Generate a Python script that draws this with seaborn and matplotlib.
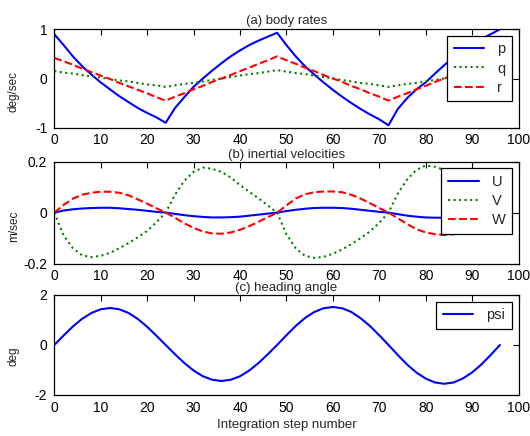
import numpy as np
import pandas as pd
import matplotlib
matplotlib.use("Agg")
import matplotlib.pyplot as plt
import seaborn as sns

steps = list(range(0, 97, 2))

p = [0.90, 0.68, 0.45, 0.25, 0.08, -0.08, -0.22, -0.36, -0.48, -0.60, -0.70, -0.79, -0.90,
     -0.60, -0.38, -0.17, 0.00, 0.16, 0.31, 0.45, 0.57, 0.68, 0.77, 0.85, 0.93,
     0.68, 0.45, 0.25, 0.08, -0.08, -0.23, -0.37, -0.50, -0.62, -0.73, -0.83, -0.95,
     -0.62, -0.40, -0.22, -0.08, 0.10, 0.27, 0.43, 0.56, 0.68, 0.80, 0.90, 1.00]
q = [0.15, 0.12, 0.10, 0.07, 0.04, 0.02, -0.01, -0.04, -0.06, -0.09, -0.12, -0.14, -0.17,
     -0.14, -0.11, -0.09, -0.06, -0.03, 0.00, 0.03, 0.06, 0.09, 0.11, 0.14, 0.17,
     0.14, 0.11, 0.09, 0.06, 0.03, 0.00, -0.03, -0.06, -0.09, -0.11, -0.14, -0.17,
     -0.14, -0.11, -0.09, -0.06, -0.03, 0.00, 0.03, 0.06, 0.09, 0.11, 0.14, 0.17]
r = [0.42, 0.35, 0.28, 0.20, 0.13, 0.06, -0.01, -0.09, -0.16, -0.23, -0.30, -0.38, -0.45,
     -0.37, -0.30, -0.22, -0.15, -0.07, 0.00, 0.07, 0.15, 0.22, 0.30, 0.37, 0.45,
     0.37, 0.30, 0.22, 0.15, 0.07, 0.00, -0.07, -0.15, -0.22, -0.30, -0.37, -0.45,
     -0.37, -0.30, -0.22, -0.15, -0.07, 0.00, 0.07, 0.15, 0.22, 0.30, 0.37, 0.45]

U = [0.0, 0.008, 0.013, 0.016, 0.018, 0.019, 0.019, 0.017, 0.014, 0.011, 0.007, 0.003, 0.0,
     -0.005, -0.010, -0.014, -0.017, -0.019, -0.019, -0.018, -0.016, -0.012, -0.008, -0.004, 0.0,
     0.006, 0.011, 0.015, 0.018, 0.019, 0.019, 0.018, 0.015, 0.011, 0.007, 0.003, 0.0,
     -0.006, -0.012, -0.016, -0.019, -0.020, -0.020, -0.020, -0.019, -0.017, -0.013, -0.008, -0.004]
V = [0.0, -0.090, -0.140, -0.168, -0.175, -0.170, -0.158, -0.140, -0.120, -0.097, -0.072, -0.038, 0.0,
     0.070, 0.125, 0.160, 0.177, 0.172, 0.160, 0.138, 0.108, 0.082, 0.056, 0.028, 0.0,
     -0.085, -0.140, -0.170, -0.178, -0.174, -0.162, -0.145, -0.124, -0.100, -0.074, -0.040, 0.0,
     0.075, 0.130, 0.168, 0.185, 0.180, 0.168, 0.150, 0.128, 0.105, 0.080, 0.050, 0.020]
W = [0.0, 0.030, 0.055, 0.070, 0.078, 0.082, 0.082, 0.078, 0.068, 0.052, 0.035, 0.017, 0.0,
     -0.020, -0.042, -0.060, -0.074, -0.082, -0.083, -0.078, -0.068, -0.053, -0.036, -0.018, 0.0,
     0.028, 0.055, 0.072, 0.080, 0.083, 0.083, 0.080, 0.070, 0.055, 0.037, 0.018, 0.0,
     -0.022, -0.045, -0.065, -0.078, -0.085, -0.088, -0.085, -0.078, -0.065, -0.048, -0.028, -0.010]

psi = [0.0, 0.38, 0.74, 1.05, 1.28, 1.43, 1.48, 1.43, 1.28, 1.04, 0.73, 0.37, 0.0,
       -0.37, -0.72, -1.02, -1.25, -1.39, -1.44, -1.39, -1.25, -1.02, -0.72, -0.37, 0.0,
       0.39, 0.76, 1.08, 1.32, 1.47, 1.52, 1.47, 1.32, 1.07, 0.76, 0.39, 0.0,
       -0.40, -0.78, -1.10, -1.34, -1.50, -1.55, -1.50, -1.34, -1.10, -0.78, -0.40, 0.0]

titles = ["(a) body rates", "(b) inertial velocities", "(c) heading angle"]
ylabels = ["deg/sec", "m/sec", "deg"]
xlabel = "Integration step number"
xticks = list(range(0, 101, 10))
yticks = [[-1, 0, 1], [-0.2, 0, 0.2], [-2, 0, 2]]
ytick_labels = [["-1", "0", "1"], ["-0.2", "0", "0.2"], ["-2", "0", "2"]]

sns.set_style("white")
plt.rcParams["font.family"] = ["Liberation Sans", "DejaVu Sans"]
plt.rcParams["axes.unicode_minus"] = False

fig = plt.figure(figsize=(5.3, 4.36), dpi=100)
W_FIG, H_FIG = 530, 436
def axrect(top, bottom, left=54.3, right=518.5):
    return [left / W_FIG, 1 - bottom / H_FIG, (right - left) / W_FIG, (bottom - top) / H_FIG]

axes = [fig.add_axes(axrect(29.3, 127.7)),
        fig.add_axes(axrect(161.7, 263.5)),
        fig.add_axes(axrect(295.0, 395.0))]

blue, green, red = "#0000ff", "#008000", "#ff0000"
lw = 1.5

panels = [
    [("p", p, blue, "-"), ("q", q, green, ":"), ("r", r, red, "--")],
    [("U", U, blue, "-"), ("V", V, green, ":"), ("W", W, red, "--")],
    [("psi", psi, blue, "-")],
]
ylims = [(-1, 1), (-0.2, 0.2), (-2, 2)]
title_pads = [4, 3, 3]

for i, ax in enumerate(axes):
    for name, vals, col, ls in panels[i]:
        df = pd.DataFrame({"step": steps, "val": vals})
        sns.lineplot(data=df, x="step", y="val", ax=ax, color=col, linewidth=lw,
                     linestyle=ls, label=name)
    ax.set_xlim(0, 100)
    ax.set_ylim(*ylims[i])
    ax.set_xticks(xticks)
    ax.set_xticklabels([str(t) for t in xticks])
    ax.set_yticks(yticks[i])
    ax.set_yticklabels(ytick_labels[i])
    ax.set_xlabel("")
    ax.set_ylabel("")
    ax.tick_params(direction="in", length=4, width=0.8, top=True, right=True,
                   labelsize=10, colors="black")
    ax.tick_params(axis="x", pad=4)
    ax.tick_params(axis="y", pad=5)
    for s in ax.spines.values():
        s.set_color("black")
        s.set_linewidth(0.9)
    ax.set_title(titles[i], fontsize=9.5, pad=title_pads[i], x=0.5)
    leg = ax.legend(loc="upper right", frameon=True, fancybox=False, framealpha=1,
                    edgecolor="black", fontsize=10.5, handlelength=2.1,
                    borderaxespad=0.45, labelspacing=0.35, handletextpad=0.9,
                    borderpad=0.45)
    leg.get_frame().set_linewidth(0.9)

axes[2].set_xlabel(xlabel, fontsize=9.5, labelpad=3)

label_y = [91, 226, 356]
for lab, yy in zip(ylabels, label_y):
    fig.text(14 / W_FIG, 1 - yy / H_FIG, lab, rotation=90, va="center", ha="center",
             fontsize=8.5, color="#222222")

fig.savefig("out.png", dpi=100)
